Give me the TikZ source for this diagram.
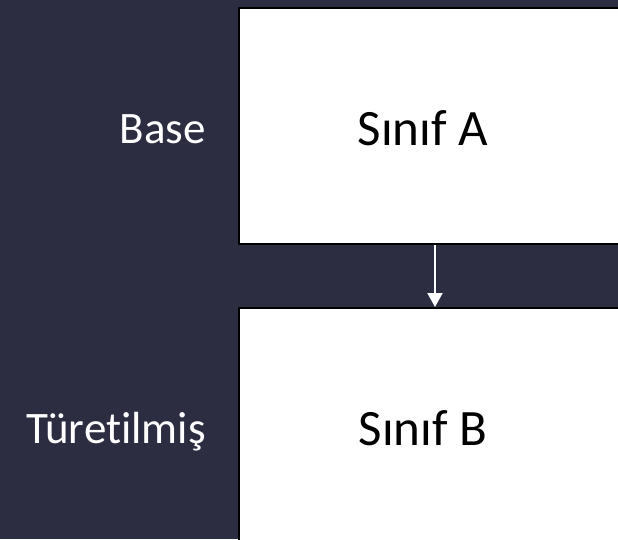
\documentclass[tikz,border=0pt]{standalone}
\usepackage{fontspec}
\setmainfont{Carlito}[Ligatures={NoCommon}]
\usetikzlibrary{arrows.meta}
\definecolor{bgdark}{RGB}{45,45,66}
\tikzset{
  classbox/.style={draw=black, line width=2.2pt, fill=white, rectangle, inner sep=0pt, anchor=north west},
  classtext/.style={text=black, font=\fontsize{51}{60}\selectfont, inner sep=0pt, anchor=base},
  rowlabel/.style={text=white, font=\fontsize{45}{54}\selectfont, inner sep=0pt, anchor=base east},
  inherit/.style={draw=white, line width=2pt, -{Triangle[length=14pt,width=15pt]}}
}
\begin{document}
\begin{tikzpicture}[x=1pt,y=-1pt]
\useasboundingbox (0,0) rectangle (618,539);
\fill[bgdark] (0,0) rectangle (618,539);
\clip (0,0) rectangle (618,539);
\node[classbox, minimum width=400pt, minimum height=236pt] (boxA) at (238,7) {};
\node[classbox, minimum width=400pt, minimum height=260pt] (boxB) at (238,307) {};
\node[classtext] (textA) at (423,145) {Sınıf A};
\node[classtext] (textB) at (423,445) {Sınıf B};
\node[rowlabel] (base) at (206,143) {Base};
\node[rowlabel] (derived) at (206,443) {Türetilmiş};
\coordinate (ax) at (435,0);
\draw[inherit] (boxA.south -| ax) -- (boxB.north -| ax);
\end{tikzpicture}
\end{document}
